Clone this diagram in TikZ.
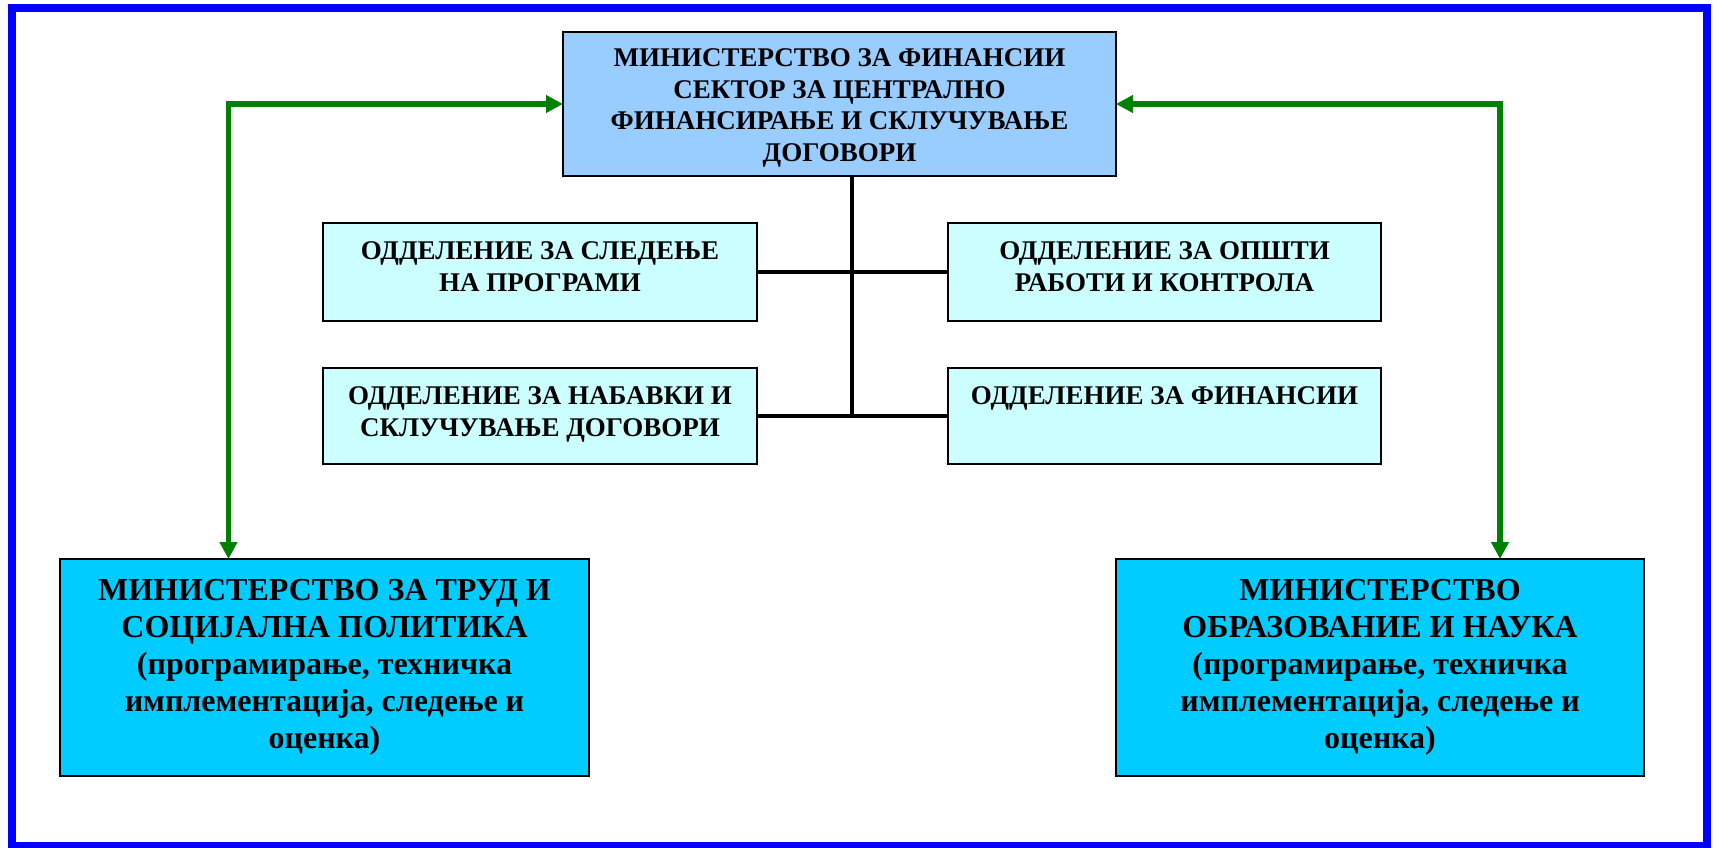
\documentclass[tikz,border=0pt]{standalone}
\usepackage{fontspec}
\setmainfont{Liberation Serif}
\usetikzlibrary{arrows.meta}
\definecolor{topfill}{HTML}{99CCFF}
\definecolor{deptfill}{HTML}{CCFFFF}
\definecolor{minfill}{HTML}{00CCFF}
\definecolor{arrowgreen}{HTML}{008000}
\definecolor{frameblue}{HTML}{0000FF}
\newcommand\txtlines[1]{\begin{tabular}[t]{@{}c@{}}#1\end{tabular}}
\begin{document}
\begin{tikzpicture}[x=1pt,y=-1pt,
  boxbase/.style={draw=black, line width=2pt, inner sep=0pt, outer sep=0pt, anchor=north west},
  topbox/.style={boxbase, fill=topfill},
  deptbox/.style={boxbase, fill=deptfill},
  minbox/.style={boxbase, fill=minfill},
  toptxt/.style={anchor=base, inner sep=0pt, font=\bfseries\fontsize{27}{31.5}\selectfont},
  depttxt/.style={anchor=base, inner sep=0pt, font=\bfseries\fontsize{27}{32}\selectfont},
  mintxt/.style={anchor=base, inner sep=0pt, font=\bfseries\fontsize{32}{37}\selectfont},
  garrow/.style={draw=arrowgreen, line width=5.5pt,
    {Triangle[length=17pt,width=17pt]}-{Triangle[length=17pt,width=17pt]}},
  conn/.style={draw=black, line width=4pt}
]
\useasboundingbox (0,0) rectangle (1717,848);
\fill[white] (0,0) rectangle (1717,848);
% frame
\draw[frameblue, line width=8pt] (12,8) rectangle (1707,846);

% top box
\node[topbox, minimum width=553pt, minimum height=144pt] (tl) at (563,32) {};
\node[toptxt] (tlt) at ([yshift=-35pt]tl.north) {\txtlines{МИНИСТЕРСТВО ЗА ФИНАНСИИ\\СЕКТОР ЗА ЦЕНТРАЛНО\\ФИНАНСИРАЊЕ И СКЛУЧУВАЊЕ\\ДОГОВОРИ}};

% departments
\node[deptbox, minimum width=434pt, minimum height=98pt] (f1) at (323,223) {};
\node[deptbox, minimum width=433pt, minimum height=98pt] (f2) at (948,223) {};
\node[deptbox, minimum width=434pt, minimum height=96pt] (f3) at (323,368) {};
\node[deptbox, minimum width=433pt, minimum height=96pt] (f4) at (948,368) {};
\node[depttxt] (f1t) at ([yshift=-36pt]f1.north) {\txtlines{ОДДЕЛЕНИЕ ЗА СЛЕДЕЊЕ\\НА ПРОГРАМИ}};
\node[depttxt] (f2t) at ([yshift=-36pt]f2.north) {\txtlines{ОДДЕЛЕНИЕ ЗА ОПШТИ\\РАБОТИ И КОНТРОЛА}};
\node[depttxt] (f3t) at ([yshift=-36pt]f3.north) {\txtlines{ОДДЕЛЕНИЕ ЗА НАБАВКИ И\\СКЛУЧУВАЊЕ ДОГОВОРИ}};
\node[depttxt] (f4t) at ([yshift=-36pt]f4.north) {\txtlines{ОДДЕЛЕНИЕ ЗА ФИНАНСИИ}};

% ministries
\node[minbox, minimum width=529pt, minimum height=217pt] (bl) at (60,559) {};
\node[minbox, minimum width=528pt, minimum height=217pt] (br) at (1116,559) {};
\node[mintxt] (blt) at ([yshift=-41pt]bl.north) {\txtlines{МИНИСТЕРСТВО ЗА ТРУД И\\СОЦИЈАЛНА ПОЛИТИКА\\(програмирање, техничка\\имплементација, следење и\\оценка)}};
\node[mintxt] (brt) at ([yshift=-41pt]br.north) {\txtlines{МИНИСТЕРСТВО\\ОБРАЗОВАНИЕ И НАУКА\\(програмирање, техничка\\имплементација, следење и\\оценка)}};

% black connectors
\coordinate (v) at (852,0);
\draw[conn] (v |- tl.south) -- (v |- f3.east);
\draw[conn] (f1.east) -- (f2.west);
\draw[conn] (f3.east) -- (f4.west);

% green arrows
\coordinate (cL) at (228.5,0);
\coordinate (cR) at (1500,0);
\draw[garrow] (tl.west) -| (cL |- bl.north);
\draw[garrow] (tl.east) -| (cR |- br.north);
\end{tikzpicture}
\end{document}
